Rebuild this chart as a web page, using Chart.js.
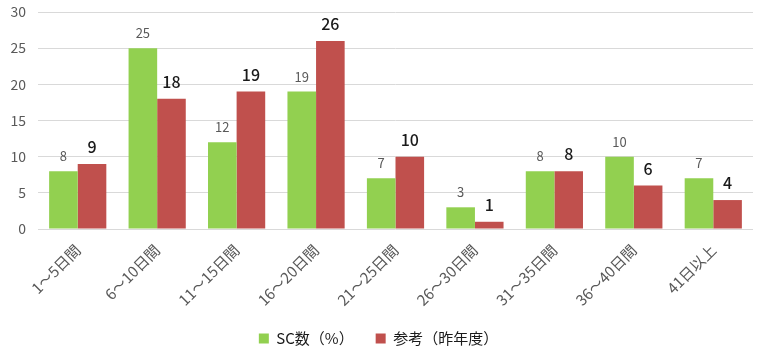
<!DOCTYPE html>
<html>
<head>
<meta charset="utf-8">
<script src="https://cdn.jsdelivr.net/npm/chart.js@4/dist/chart.umd.min.js"></script>
<style>
  html, body { margin: 0; padding: 0; background: #fff; }
  #wrap { width: 778px; height: 362px; }
</style>
</head>
<body>
<div id="wrap"><canvas id="chart"></canvas></div>
<script>
/* ---------- data ---------- */
const categories = ['1～5日間', '6～10日間', '11～15日間', '16～20日間', '21～25日間',
                    '26～30日間', '31～35日間', '36～40日間', '41日以上'];
const scValues = [8, 25, 12, 19, 7, 3, 8, 10, 7];
const lastYearValues = [9, 18, 19, 26, 10, 1, 8, 6, 4];
const seriesNames = ['SC数（%）', '参考（昨年度）'];
const yTicks = [0, 5, 10, 15, 20, 25, 30];

const FONT = "'Noto Sans CJK JP', 'Noto Sans', sans-serif";

// value labels above bars (green: small grey, red: larger dark)
const valueLabels = {
    id: 'valueLabels',
    afterDatasetsDraw(chart) {
        const ctx = chart.ctx;
        const styles = [
            { font: '13px ' + FONT, color: '#595959', gap: 15 },
            { font: '500 16px ' + FONT, color: '#1a1a1a', gap: 17 }
        ];
        chart.data.datasets.forEach((ds, i) => {
            const meta = chart.getDatasetMeta(i);
            const st = styles[i];
            ctx.save();
            ctx.font = st.font;
            ctx.fillStyle = st.color;
            ctx.textAlign = 'center';
            ctx.textBaseline = 'middle';
            meta.data.forEach((bar, j) => {
                ctx.fillText(String(ds.data[j]), bar.x, bar.y - st.gap);
            });
            ctx.restore();
        });
    }
};

new Chart(document.getElementById('chart'), {
    type: 'bar',
    data: {
        labels: categories,
        datasets: [
            {
                label: seriesNames[0],
                data: scValues,
                backgroundColor: '#92D050',
                categoryPercentage: 0.72,
                barPercentage: 1.0
            },
            {
                label: seriesNames[1],
                data: lastYearValues,
                backgroundColor: '#C0504D',
                categoryPercentage: 0.72,
                barPercentage: 1.0
            }
        ]
    },
    options: {
        responsive: true,
        maintainAspectRatio: false,
        animation: false,
        layout: { padding: { left: 4, right: 25, top: 12, bottom: 6 } },
        plugins: {
            tooltip: { enabled: false },
            legend: {
                position: 'bottom',
                labels: {
                    boxWidth: 10,
                    boxHeight: 10,
                    padding: 22,
                    color: '#1a1a1a',
                    font: { family: FONT, size: 15 }
                }
            }
        },
        scales: {
            x: {
                grid: { display: false },
                border: { display: false },
                afterFit: s => { s.height = 80; },
                ticks: {
                    color: '#595959',
                    font: { family: FONT, size: 15 },
                    minRotation: 45,
                    maxRotation: 45,
                    padding: 4
                }
            },
            y: {
                min: yTicks[0],
                max: yTicks[yTicks.length - 1],
                afterBuildTicks: s => { s.ticks = yTicks.map(v => ({ value: v })); },
                afterFit: s => { s.width = 34; s.paddingTop = 0; s.paddingBottom = 0; },
                grid: { color: '#d9d9d9', lineWidth: 1, drawTicks: false },
                border: { display: false },
                ticks: {
                    color: '#595959',
                    font: { family: FONT, size: 14 },
                    padding: 12
                }
            }
        }
    },
    plugins: [valueLabels]
});
</script>
</body>
</html>
